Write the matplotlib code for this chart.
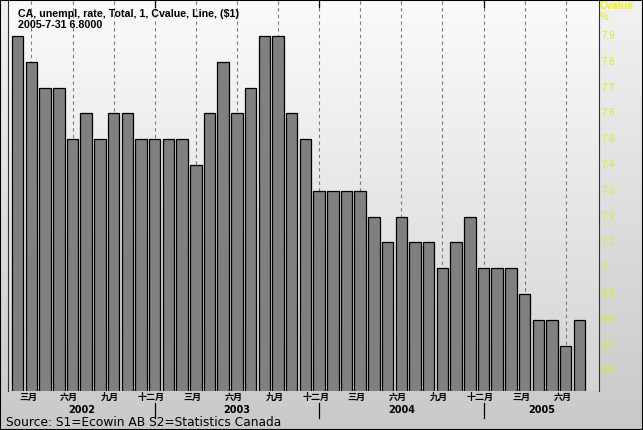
import numpy as np
import pandas as pd
import matplotlib
matplotlib.use("Agg")
import matplotlib.pyplot as plt
from matplotlib.patches import Rectangle

# monthly Canadian unemployment rate, end-of-month, Feb 2002 - Jul 2005
months = pd.period_range("2002-02", "2005-07", freq="M")
values = [7.9, 7.8, 7.7, 7.7, 7.5, 7.6, 7.5, 7.6, 7.6, 7.5, 7.5,
          7.5, 7.5, 7.4, 7.6, 7.8, 7.6, 7.7, 7.9, 7.9, 7.6, 7.5, 7.3,
          7.3, 7.3, 7.3, 7.2, 7.1, 7.2, 7.1, 7.1, 7.0, 7.1, 7.2, 7.0,
          7.0, 7.0, 6.9, 6.8, 6.8, 6.7, 6.8]
month_names = {3: "三月", 6: "六月", 9: "九月", 12: "十二月"}
y_ticks = [7.9, 7.8, 7.7, 7.6, 7.5, 7.4, 7.3, 7.2, 7.1, 7.0, 6.9, 6.8, 6.7, 6.6]
title_lines = ["CA, unempl, rate, Total, 1, Cvalue, Line, ($1)", "2005-7-31 6.8000"]
source_text = "Source: S1=Ecowin AB S2=Statistics Canada"

W, H = 643, 430

def px(x, y):
    # pixel coords (from top-left) -> figure fraction
    return x / W, 1 - y / H

fig = plt.figure(figsize=(W / 100, H / 100), dpi=100)

# figure background gradient
bg = fig.add_axes([0, 0, 1, 1], zorder=-10)
grad = np.linspace(0, 1, 256).reshape(-1, 1)
bg.imshow(grad, aspect="auto", cmap=matplotlib.colors.LinearSegmentedColormap.from_list(
    "bg", ["#f2f2f2", "#c9c9c9"]), extent=[0, 1, 0, 1], origin="upper")
bg.set_xlim(0, 1)
bg.set_ylim(0, 1)
bg.axis("off")

left, top = px(8, 1)
right, bottom = px(599, 391)
ax = fig.add_axes([left, bottom, right - left, top - bottom])
ax.set_facecolor("none")

x = np.arange(len(values))
xlo, xhi = -0.71, 42.43
ylo, yhi = 6.524, 8.036
ax.set_xlim(xlo, xhi)
ax.set_ylim(ylo, yhi)

# plot area gradient
ax.imshow(grad, aspect="auto", cmap=matplotlib.colors.LinearSegmentedColormap.from_list(
    "pa", ["#fbfbfb", "#d4d4d4"]), extent=[xlo, xhi, ylo, yhi], origin="upper", zorder=0)

# dashed gridlines at quarter ends
quarter_idx = [i for i, m in enumerate(months) if m.month in month_names]
for i in quarter_idx:
    ax.axvline(i, color="#7a7a7a", lw=0.8, ls=(0, (3, 3)), zorder=1)

ax.bar(x, values, width=0.84, color="#808080", edgecolor="black", lw=0.9, zorder=2)

for s in ["top", "bottom"]:
    ax.spines[s].set_visible(False)
ax.spines["left"].set_color("#333333")
ax.spines["right"].set_color("#333333")
ax.set_xticks([])
ax.set_yticks([])

xt = ax.get_xaxis_transform()
yt = ax.get_yaxis_transform()

# month labels
for i in quarter_idx:
    ax.text(i - 0.25, -0.016, month_names[months[i].month], transform=xt,
            ha="center", va="center", fontsize=6.5, fontweight="bold",
            family=["Noto Sans CJK SC", "DejaVu Sans"], clip_on=False)

# year boundaries and year labels
dec_idx = [i for i, m in enumerate(months) if m.month == 12]
for i in dec_idx:
    ax.plot([i, i], [-0.031, -0.068], transform=xt, color="black", lw=0.9, clip_on=False)
    ax.plot([i, i], [1.0, 0.985], transform=xt, color="black", lw=0.9, clip_on=False)
bounds = [xlo] + dec_idx + [xhi]
years = sorted(set(m.year for m in months))
for yr, a, b in zip(years, bounds[:-1], bounds[1:]):
    ax.text((a + b) / 2, -0.049, str(yr), transform=xt, ha="center", va="center",
            fontsize=7, fontweight="bold", clip_on=False)

# right-hand value labels
for v in y_ticks:
    lab = f"{v:g}"
    ax.text(1.004, v, lab, transform=yt, ha="left", va="center", fontsize=7,
            family="Liberation Sans", color="#e6e61e", clip_on=False)
fig.text(*px(600, 6), "Cvalue", ha="left", va="center", fontsize=7.5,
         fontweight="bold", family="Liberation Sans", color="#f0f000")
fig.text(*px(600, 17), "%", ha="left", va="center", fontsize=7,
         family="Liberation Sans", color="#e6e61e")

# title
for k, line in enumerate(title_lines):
    fig.text(*px(18, 14 + 11 * k), line, ha="left", va="center", fontsize=7.7,
             fontweight="bold", family="Liberation Sans")

fig.text(*px(6, 422), source_text, ha="left", va="center", fontsize=8.8)

fig.patches.append(Rectangle((0, 0), 1, 1, transform=fig.transFigure, fill=False,
                             edgecolor="black", lw=1.5))

fig.savefig("out.png", dpi=100)
